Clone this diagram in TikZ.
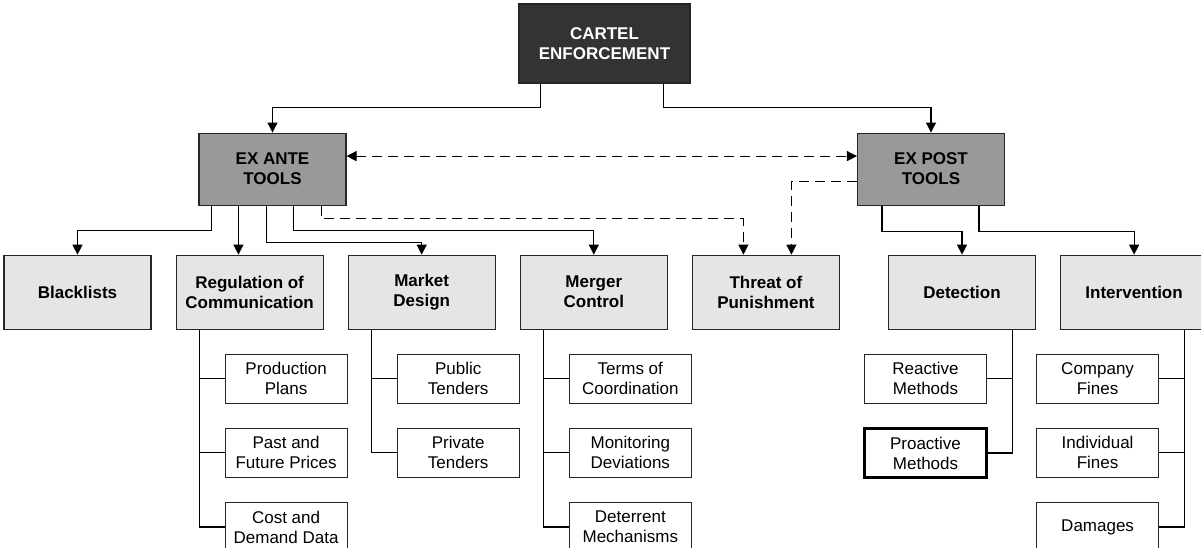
\documentclass[tikz,border=0pt]{standalone}
\usepackage{fontspec}
\setmainfont{Liberation Sans}
\usetikzlibrary{positioning, calc, arrows.meta}

\begin{document}
\begin{tikzpicture}[x=1pt, y=1pt, >={Triangle[length=10pt, width=10pt]}, node distance=24pt, line width=1.1pt,
  every node/.style={font=\fontsize{17}{20}\selectfont, align=center},
  root/.style={draw=black!85, fill=black!80, text=white, font=\fontsize{17}{20}\selectfont\bfseries, minimum width=171pt, minimum height=79pt},
  tools/.style={draw=black!85, fill=black!40, font=\fontsize{17}{20}\selectfont\bfseries, minimum width=147pt, minimum height=72pt},
  area/.style={draw=black!85, fill=black!10, font=\fontsize{17}{20}\selectfont\bfseries, minimum width=147pt, minimum height=74pt},
  sub/.style={draw=black!85, fill=white, minimum width=122pt, minimum height=49pt, inner sep=2pt},
  link/.style={dash pattern=on 10pt off 6pt}]
  \useasboundingbox (0,0) rectangle (1201,547);

  \node[root] (cartel) at (604.5,503.5) {CARTEL\\ENFORCEMENT};
  \node[tools, below=49pt of cartel, xshift=-332pt] (exante) {EX ANTE\\TOOLS};
  \node[tools, below=49pt of cartel, xshift=326.5pt] (expost) {EX POST\\TOOLS};

  \node[area, below=49pt of exante, xshift=-195pt] (black) {Blacklists};
  \node[area, right=of black] (reg) {Regulation of\\Communication};
  \node[area, right=of reg] (market) {Market\\Design};
  \node[area, right=of market] (merger) {Merger\\Control};
  \node[area, right=of merger] (threat) {Threat of\\Punishment};
  \node[area, right=48pt of threat] (detect) {Detection};
  \node[area, right=of detect] (interv) {Intervention};

  \node[sub, below=of reg, xshift=36.5pt] (prod) {Production\\Plans};
  \node[sub, below=of prod] (past) {Past and\\Future Prices};
  \node[sub, below=of past] (cost) {Cost and\\Demand Data};
  \node[sub, below=of market, xshift=36.5pt] (public) {Public\\Tenders};
  \node[sub, below=of public] (private) {Private\\Tenders};
  \node[sub, below=of merger, xshift=36.5pt] (terms) {Terms of\\Coordination};
  \node[sub, below=of terms] (monit) {Monitoring\\Deviations};
  \node[sub, below=of monit] (deter) {Deterrent\\Mechanisms};
  \node[sub, below=of detect, xshift=-36.5pt] (reactive) {Reactive\\Methods};
  \node[sub, draw=black, line width=3.2pt, below=23pt of reactive] (proactive) {Proactive\\Methods};
  \node[sub, below=of interv, xshift=-36.5pt] (company) {Company\\Fines};
  \node[sub, below=of company] (indiv) {Individual\\Fines};
  \node[sub, below=of indiv] (damages) {Damages};

  \draw[->] ([xshift=22pt]cartel.south west) -- ++(0,-24pt) -| (exante);
  \draw[->] ([xshift=-27pt]cartel.south east) -- ++(0,-24pt) -| (expost);
  \draw[<->, link] ([yshift=13pt]exante.east) -- ([yshift=13pt]expost.west);

  \draw[->] ([xshift=13pt]exante.south west) -- ++(0,-25pt) -| (black);
  \draw[->] ([xshift=40pt]exante.south west) -- ([xshift=40pt]exante.south west |- reg.north);
  \draw[->] ([xshift=68pt]exante.south west) -- ++(0,-37pt) -| (market);
  \draw[->] ([xshift=95pt]exante.south west) -- ++(0,-25pt) -| (merger);
  \draw[->, link] ([xshift=123pt]exante.south west) -- ++(0,-13pt) -| ([xshift=-22.5pt]threat.north);
  \draw[->, link] ([yshift=-12pt]expost.west) -| ([xshift=25.5pt]threat.north);
  \draw[->] ([xshift=25pt]expost.south west) -- ++(0,-26pt) -| (detect);
  \draw[->] ([xshift=122pt]expost.south west) -- ++(0,-26pt) -| (interv);

  \draw ([xshift=24pt]reg.south west) |- (prod.west);
  \draw ([xshift=24pt]reg.south west) |- (past.west);
  \draw ([xshift=24pt]reg.south west) |- (cost.west);
  \draw ([xshift=24pt]market.south west) |- (public.west);
  \draw ([xshift=24pt]market.south west) |- (private.west);
  \draw ([xshift=24pt]merger.south west) |- (terms.west);
  \draw ([xshift=24pt]merger.south west) |- (monit.west);
  \draw ([xshift=24pt]merger.south west) |- (deter.west);
  \draw ([xshift=-24pt]detect.south east) |- (reactive.east);
  \draw ([xshift=-24pt]detect.south east) |- (proactive.east);
  \draw ([xshift=-24pt]interv.south east) |- (company.east);
  \draw ([xshift=-24pt]interv.south east) |- (indiv.east);
  \draw ([xshift=-24pt]interv.south east) |- (damages.east);
\end{tikzpicture}
\end{document}
